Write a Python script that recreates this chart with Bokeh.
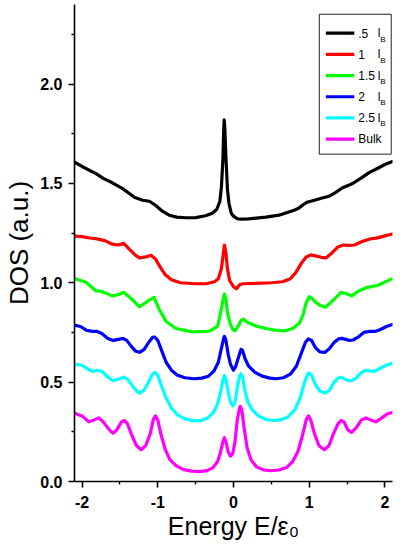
from bokeh.plotting import figure
from bokeh.models import Range1d, FixedTicker
from bokeh.embed import file_html
from bokeh.resources import INLINE
from bokeh.core.properties import value

# ---------------- data ----------------
x_b05 = [-2.1, -2.0, -1.9, -1.82, -1.72, -1.6, -1.47, -1.38, -1.31, -1.2, -1.11, -1.03, -0.94, -0.85,
         -0.75, -0.63, -0.5, -0.37, -0.28, -0.22, -0.18, -0.16, -0.14, -0.13, -0.123, -0.115, -0.10,
         -0.08, -0.06, -0.03, 0.0, 0.05, 0.1, 0.2, 0.43, 0.6, 0.72, 0.8, 0.86, 0.91, 0.97, 1.07, 1.16,
         1.26, 1.35, 1.44, 1.52, 1.59, 1.7, 1.79, 1.9, 2.0, 2.1]
y_b05 = [1.607, 1.585, 1.565, 1.55, 1.525, 1.503, 1.475, 1.45, 1.43, 1.415, 1.41, 1.39, 1.36, 1.34,
         1.33, 1.327, 1.328, 1.337, 1.35, 1.37, 1.41, 1.48, 1.62, 1.76, 1.82, 1.78, 1.63,
         1.47, 1.40, 1.35, 1.335, 1.322, 1.32, 1.321, 1.33, 1.34, 1.355, 1.365, 1.375, 1.39, 1.405, 1.415, 1.425,
         1.435, 1.455, 1.478, 1.49, 1.503, 1.53, 1.554, 1.575, 1.595, 1.61]

x_b10 = [-2.1, -2.0, -1.9, -1.82, -1.7, -1.6, -1.52, -1.45, -1.38, -1.3, -1.24, -1.16, -1.09, -1.03,
         -0.97, -0.9, -0.82, -0.7, -0.5, -0.35, -0.25, -0.2, -0.16, -0.14, -0.12, -0.10, -0.08, -0.05,
         0.0, 0.04, 0.08, 0.13, 0.3, 0.5, 0.65, 0.75, 0.82, 0.9, 0.96, 1.02, 1.08, 1.16, 1.22, 1.3, 1.38,
         1.45, 1.52, 1.6, 1.7, 1.8, 1.9, 2.0, 2.1]
y_b10 = [1.235, 1.232, 1.225, 1.222, 1.212, 1.194, 1.19, 1.198, 1.17, 1.14, 1.125, 1.13, 1.138, 1.12,
         1.08, 1.04, 1.015, 1.0, 0.995, 0.996, 1.005, 1.02, 1.07, 1.13, 1.19, 1.15, 1.07, 1.01,
         0.98, 0.97, 0.99, 0.995, 0.997, 1.0, 1.005, 1.02, 1.05, 1.1, 1.13, 1.14, 1.135, 1.128, 1.125, 1.15, 1.18,
         1.19, 1.188, 1.19, 1.208, 1.22, 1.226, 1.236, 1.245]

x_b15 = [-2.1, -1.95, -1.82, -1.73, -1.6, -1.52, -1.45, -1.33, -1.24, -1.11, -1.05, -0.98, -0.89, -0.76,
         -0.54, -0.32, -0.21, -0.17, -0.14, -0.12, -0.10, -0.08, -0.04, -0.01, 0.02, 0.06, 0.1, 0.13,
         0.17, 0.21, 0.3, 0.43, 0.55, 0.69, 0.78, 0.87, 0.92, 0.96, 1.0, 1.04, 1.09, 1.15, 1.21, 1.27,
         1.33, 1.42, 1.49, 1.56, 1.66, 1.77, 1.9, 2.0, 2.1]
y_b15 = [1.021, 1.003, 0.96, 0.955, 0.934, 0.94, 0.952, 0.913, 0.879, 0.913, 0.926, 0.865, 0.805, 0.77,
         0.753, 0.756, 0.78, 0.85, 0.91, 0.943, 0.92, 0.85, 0.79, 0.765, 0.758, 0.78, 0.81, 0.817,
         0.805, 0.796, 0.782, 0.77, 0.762, 0.758, 0.77, 0.796, 0.84, 0.9, 0.93, 0.92, 0.9, 0.885, 0.877, 0.895,
         0.917, 0.952, 0.945, 0.934, 0.96, 0.977, 0.986, 1.003, 1.021]

x_b20 = [-2.1, -2.02, -1.94, -1.86, -1.8, -1.74, -1.66, -1.59, -1.52, -1.46, -1.41, -1.35, -1.29, -1.24,
         -1.18, -1.12, -1.07, -1.04, -1.0, -0.95, -0.89, -0.82, -0.74, -0.64, -0.52, -0.42, -0.33, -0.26,
         -0.2, -0.16, -0.13, -0.12, -0.1, -0.07, -0.04, 0.0, 0.03, 0.07, 0.1, 0.12, 0.15, 0.2, 0.28, 0.38,
         0.48, 0.56, 0.66, 0.75, 0.83, 0.9, 0.95, 0.99, 1.03, 1.08, 1.14, 1.21, 1.27, 1.33, 1.39, 1.43,
         1.48, 1.53, 1.58, 1.64, 1.72, 1.8, 1.87, 1.94, 2.02, 2.1]
y_b20 = [0.787, 0.78, 0.76, 0.755, 0.755, 0.745, 0.72, 0.71, 0.715, 0.72, 0.71, 0.68, 0.655, 0.65,
         0.665, 0.70, 0.725, 0.727, 0.71, 0.66, 0.60, 0.56, 0.535, 0.522, 0.517, 0.52, 0.53, 0.555,
         0.60, 0.67, 0.72, 0.73, 0.71, 0.64, 0.59, 0.56, 0.58, 0.63, 0.665, 0.66, 0.62, 0.58, 0.55, 0.53,
         0.52, 0.517, 0.522, 0.54, 0.58, 0.65, 0.70, 0.718, 0.71, 0.675, 0.652, 0.65, 0.67, 0.70, 0.718, 0.72,
         0.715, 0.71, 0.712, 0.725, 0.75, 0.755, 0.755, 0.765, 0.78, 0.79]

x_b25 = [-2.1, -2.0, -1.92, -1.86, -1.8, -1.74, -1.66, -1.59, -1.52, -1.45, -1.4, -1.34, -1.28, -1.24,
         -1.18, -1.12, -1.07, -1.035, -1.0, -0.95, -0.89, -0.82, -0.74, -0.64, -0.52, -0.42, -0.34, -0.27,
         -0.21, -0.17, -0.14, -0.12, -0.1, -0.07, -0.04, -0.01, 0.02, 0.05, 0.08, 0.1, 0.12, 0.15, 0.19,
         0.25, 0.33, 0.43, 0.52, 0.62, 0.72, 0.81, 0.88, 0.94, 0.98, 1.0, 1.03, 1.08, 1.14, 1.21, 1.27,
         1.33, 1.38, 1.42, 1.47, 1.52, 1.56, 1.62, 1.68, 1.75, 1.81, 1.87, 1.94, 2.02, 2.1]
y_b25 = [0.59, 0.585, 0.565, 0.554, 0.56, 0.555, 0.525, 0.507, 0.515, 0.525, 0.515, 0.485, 0.455, 0.445,
         0.46, 0.50, 0.54, 0.549, 0.535, 0.48, 0.42, 0.37, 0.335, 0.315, 0.305, 0.308, 0.32, 0.345,
         0.39, 0.45, 0.51, 0.532, 0.515, 0.45, 0.40, 0.38, 0.40, 0.47, 0.53, 0.542, 0.525, 0.46, 0.40,
         0.36, 0.33, 0.312, 0.307, 0.31, 0.325, 0.36, 0.42, 0.50, 0.54, 0.545, 0.535, 0.49, 0.455, 0.445, 0.46,
         0.50, 0.52, 0.525, 0.515, 0.507, 0.507, 0.52, 0.545, 0.56, 0.555, 0.555, 0.57, 0.585, 0.596]

x_bulk = [-2.1, -2.0, -1.91, -1.84, -1.78, -1.72, -1.64, -1.59, -1.54, -1.48, -1.44, -1.4, -1.34, -1.28,
          -1.22, -1.16, -1.1, -1.06, -1.03, -1.0, -0.96, -0.9, -0.84, -0.76, -0.66, -0.55, -0.45, -0.35,
          -0.27, -0.21, -0.17, -0.14, -0.12, -0.1, -0.07, -0.04, -0.01, 0.02, 0.05, 0.08, 0.09, 0.11, 0.14,
          0.18, 0.23, 0.3, 0.4, 0.5, 0.6, 0.7, 0.78, 0.85, 0.91, 0.96, 0.99, 1.02, 1.07, 1.13, 1.2, 1.26,
          1.32, 1.38, 1.42, 1.46, 1.51, 1.56, 1.62, 1.69, 1.75, 1.81, 1.88, 1.96, 2.03, 2.1]
y_bulk = [0.344, 0.33, 0.30, 0.31, 0.32, 0.30, 0.26, 0.243, 0.26, 0.30, 0.307, 0.29, 0.23, 0.18,
          0.16, 0.18, 0.24, 0.31, 0.33, 0.31, 0.24, 0.16, 0.11, 0.08, 0.06, 0.052, 0.05, 0.055,
          0.07, 0.10, 0.15, 0.20, 0.22, 0.20, 0.15, 0.128, 0.14, 0.20, 0.31, 0.37, 0.378, 0.36, 0.27,
          0.17, 0.11, 0.075, 0.058, 0.054, 0.058, 0.07, 0.10, 0.15, 0.23, 0.31, 0.33, 0.31, 0.24, 0.18, 0.16, 0.18,
          0.24, 0.29, 0.307, 0.30, 0.26, 0.247, 0.27, 0.31, 0.32, 0.31, 0.30, 0.32, 0.34, 0.347]

series_x = [x_b05, x_b10, x_b15, x_b20, x_b25, x_bulk]
series_y = [y_b05, y_b10, y_b15, y_b20, y_b25, y_bulk]
series_colors = ["#000000", "#ff0000", "#00ff00", "#0000ff", "#00ffff", "#ff00ff"]
legend_nums = [".5", "1", "1.5", "2", "2.5", "Bulk"]
legend_sub = [True, True, True, True, True, False]

x_ticks = [-2, -1, 0, 1, 2]
x_tick_labels = ["-2", "-1", "0", "1", "2"]
x_minor = [-1.5, -0.5, 0.5, 1.5]
y_ticks = [0.0, 0.5, 1.0, 1.5, 2.0]
y_tick_labels = ["0.0", "0.5", "1.0", "1.5", "2.0"]
y_minor = [0.25, 0.75, 1.25, 1.75, 2.25]
x_title = "Energy E/ε₀"
y_title = "DOS (a.u.)"

FONT = "Liberation Sans"

p = figure(width=394, height=550, x_range=Range1d(-2.1, 2.1), y_range=Range1d(0, 2.4),
           output_backend="svg", toolbar_location=None, title=None,
           min_border_left=74, min_border_right=2, min_border_top=4, min_border_bottom=69)
p.outline_line_color = None
p.xgrid.visible = False
p.ygrid.visible = False
p.background_fill_color = "white"
p.border_fill_color = "white"

for ax, ticks, minor, labels in ((p.xaxis[0], x_ticks, x_minor, x_tick_labels),
                                 (p.yaxis[0], y_ticks, y_minor, y_tick_labels)):
    ax.ticker = FixedTicker(ticks=ticks, minor_ticks=minor)
    ax.major_label_overrides = {t: l for t, l in zip(ticks, labels)}
    ax.axis_line_width = 1.6
    ax.axis_line_color = "black"
    ax.major_tick_line_width = 1.6
    ax.minor_tick_line_width = 1.4
    ax.major_tick_in = 0
    ax.major_tick_out = 6
    ax.minor_tick_in = 0
    ax.minor_tick_out = 3
    ax.major_label_text_font = FONT
    ax.major_label_text_font_style = "bold"
    ax.major_label_text_font_size = "16px"
    ax.major_label_text_color = "black"
    ax.axis_label_text_font = FONT
    ax.axis_label_text_font_style = "normal"
    ax.axis_label_text_color = "black"
p.xaxis[0].major_label_standoff = 8
p.yaxis[0].major_label_standoff = 6
p.xaxis[0].axis_label = x_title
p.xaxis[0].axis_label_text_font_size = "25px"
p.xaxis[0].axis_label_standoff = 1
p.yaxis[0].axis_label = y_title
p.yaxis[0].axis_label_text_font_size = "26px"
p.yaxis[0].axis_label_standoff = 3

for xs, ys, c in zip(series_x, series_y, series_colors):
    p.line(xs, ys, line_width=3.2, line_color=c, line_join="round", line_cap="round")

# legend (data-space layout constants)
lg_left, lg_right, lg_top, lg_bottom = 1.133, 2.083, 2.351, 1.647
row0, row_step = 2.256, 0.1067
line_x0, line_x1, text_x, l_x, b_x = 1.22, 1.595, 1.647, 1.905, 1.937
p.quad(left=[lg_left], right=[lg_right], top=[lg_top], bottom=[lg_bottom],
       fill_color="white", line_color="#222222", line_width=1)
rows = [row0 - i * row_step for i in range(len(legend_nums))]
p.segment(x0=[line_x0] * len(rows), x1=[line_x1] * len(rows), y0=rows, y1=rows,
          line_color=series_colors, line_width=3.2)
p.text(x=[text_x] * len(rows), y=rows, text=legend_nums, text_font=value(FONT),
       text_font_size="12px", text_baseline="middle", text_align="left", text_color="black")
sub_rows = [r for r, s in zip(rows, legend_sub) if s]
p.text(x=[l_x] * len(sub_rows), y=sub_rows, text=["l"] * len(sub_rows), text_font=value(FONT),
       text_font_size="12px", text_baseline="middle", text_align="left", text_color="black")
p.text(x=[b_x] * len(sub_rows), y=[r - 0.03 for r in sub_rows], text=["B"] * len(sub_rows),
       text_font=value(FONT), text_font_size="8px", text_baseline="middle", text_align="left",
       text_color="black")

open("out.html", "w").write(file_html(p, INLINE))
